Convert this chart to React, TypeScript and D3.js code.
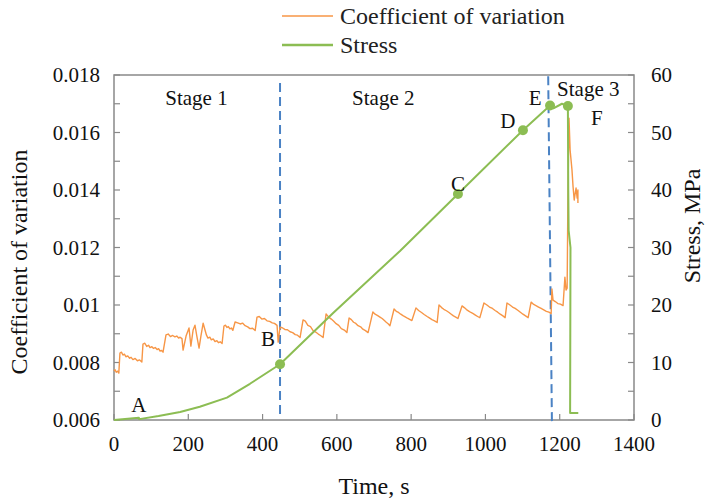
import React from "react";
import * as d3 from "d3";

// -- DATA --
// coefficient of variation, [time s, value]
const cvSeries: [number, number][] = [
  [0, 0.0077], [3, 0.00775], [6, 0.00766], [10, 0.0077], [13, 0.00763], [16, 0.00833], [20, 0.00836],
  [24, 0.00826], [28, 0.00829], [32, 0.0082], [37, 0.00823], [42, 0.00815], [46, 0.00818], [51, 0.0081],
  [57, 0.00814], [63, 0.00806], [69, 0.00809], [75, 0.00802], [78, 0.00864], [83, 0.00867], [88, 0.00856],
  [93, 0.0086], [97, 0.00852], [102, 0.00855], [106, 0.00849], [111, 0.00852], [116, 0.00845], [120, 0.00848],
  [124, 0.0084], [128, 0.00842], [132, 0.00836], [140, 0.00896], [146, 0.00899], [152, 0.0089], [158, 0.00894],
  [164, 0.00889], [169, 0.00892], [174, 0.00885], [178, 0.00888], [183, 0.00883], [186, 0.00843], [194, 0.00892],
  [202, 0.0092], [207, 0.00857], [213, 0.00913], [218, 0.0093], [223, 0.00892], [229, 0.0085],
  [234, 0.00892], [240, 0.00937], [245, 0.00913], [249, 0.00895], [253, 0.00885], [258, 0.00888], [262, 0.00879],
  [267, 0.00882], [272, 0.00873], [277, 0.00876], [281, 0.00869], [286, 0.00872], [291, 0.00866], [296, 0.00927],
  [300, 0.0093], [304, 0.00922], [308, 0.00925], [312, 0.00917], [316, 0.0092], [320, 0.00912],
  [326, 0.00941], [333, 0.00938], [340, 0.00934], [346, 0.00937], [353, 0.00928], [360, 0.00924], [366, 0.00918],
  [373, 0.00919], [380, 0.00911], [385, 0.00958], [391, 0.0096], [398, 0.00951], [405, 0.00953], [412, 0.00945],
  [419, 0.00943], [426, 0.00938], [432, 0.00936], [439, 0.00929], [442, 0.00871], [447, 0.00923],
  [453, 0.00921], [460, 0.00915], [467, 0.00914], [474, 0.00907], [481, 0.00904], [488, 0.00897], [494, 0.00895],
  [501, 0.00887], [509, 0.00948], [515, 0.00944], [522, 0.00929], [529, 0.00925], [536, 0.00911], [543, 0.00906],
  [550, 0.00899], [556, 0.00894], [563, 0.00887], [571, 0.00969], [578, 0.00958], [585, 0.00951], [591, 0.00944],
  [598, 0.00935], [605, 0.00929], [612, 0.00918], [620, 0.00913], [627, 0.00904], [633, 0.00955], [639, 0.00949],
  [645, 0.0094], [651, 0.00936], [657, 0.00928], [664, 0.00924], [670, 0.00916], [677, 0.00911],
  [684, 0.00904], [697, 0.00976], [703, 0.00968], [710, 0.00963], [716, 0.00958], [722, 0.00953], [728, 0.00946],
  [733, 0.0094], [738, 0.00935], [743, 0.00928], [754, 0.00986], [760, 0.00978], [766, 0.00974], [772, 0.00968],
  [778, 0.00963], [784, 0.00959], [790, 0.00954], [796, 0.0095], [802, 0.00946], [813, 0.0099], [820, 0.00981],
  [828, 0.00974], [835, 0.00967], [843, 0.0096], [849, 0.00955], [856, 0.00949], [863, 0.00945], [870, 0.00939],
  [875, 0.01], [882, 0.00991], [888, 0.00985], [895, 0.0098], [902, 0.00974], [908, 0.00968], [914, 0.00962],
  [920, 0.00958], [926, 0.00953], [937, 0.00997], [943, 0.00991], [949, 0.00984], [955, 0.00979], [961, 0.00974],
  [967, 0.0097], [973, 0.00965], [979, 0.0096], [985, 0.00956], [996, 0.01007], [1004, 0.01], [1011, 0.00993],
  [1019, 0.00988], [1026, 0.00981], [1033, 0.00975], [1040, 0.00968], [1047, 0.00962], [1053, 0.00956],
  [1058, 0.01007], [1066, 0.01], [1073, 0.00993], [1080, 0.00988], [1088, 0.00981], [1095, 0.00974],
  [1101, 0.00968], [1108, 0.00962], [1115, 0.00956], [1123, 0.0101], [1130, 0.01002], [1136, 0.00998],
  [1143, 0.00993], [1150, 0.00988], [1157, 0.00983], [1164, 0.00978], [1171, 0.00975], [1177, 0.0097],
  [1179, 0.01056], [1182, 0.01017], [1188, 0.01012], [1195, 0.01005], [1202, 0.01003], [1209, 0.00998],
  [1214, 0.01097], [1217, 0.01052], [1220, 0.01059], [1222, 0.01365], [1225, 0.0165], [1228, 0.01539],
  [1233, 0.0147], [1236, 0.0141], [1239, 0.01365], [1241, 0.01383], [1244, 0.01407], [1247, 0.01372],
  [1249, 0.014], [1249, 0.01355],
];

// stress, [time s, MPa]
const stressSeries: [number, number][] = [
  [0, 0], [67, 0.4], [68, 0.15], [120, 0.7], [178, 1.4], [231, 2.3], [304, 3.9], [366, 6.3],
  [447, 9.7], [590, 18.6], [770, 29.4], [926, 39.3], [1101, 50.4], [1174, 54.7], [1183, 54.2],
  [1206, 55.0], [1222, 54.6], [1223, 40], [1224, 33], [1229, 30], [1228, 1.2], [1250, 1.2],
];

// labelled points on the stress curve
const markerNames = ["A", "B", "C", "D", "E", "F"];
const markerTimes = [67, 447, 926, 1101, 1174, 1222];
const markerStress = [0.4, 9.7, 39.3, 50.4, 54.7, 54.6];
const markerDots = [false, true, true, true, true, true];

// stage boundaries, [time top, time bottom]
const stageLines: [number, number][] = [[447, 447], [1169, 1179]];
const stageNames = ["Stage 1", "Stage 2", "Stage 3"];
const stageTimes = [222, 725, 1277];

const xTicks = [0, 200, 400, 600, 800, 1000, 1200, 1400];
const cvTicks = [0.006, 0.008, 0.01, 0.012, 0.014, 0.016, 0.018];
const cvTickLabels = ["0.006", "0.008", "0.01", "0.012", "0.014", "0.016", "0.018"];
const stressTicks = [0, 10, 20, 30, 40, 50, 60];

const seriesNames = ["Coefficient of variation", "Stress"];

const App = () => {
  const W = 707;
  const H = 499;
  const m = { left: 114, right: 634, top: 75, bottom: 420 };
  const font = "'Liberation Serif', 'Times New Roman', serif";
  const axisColor = "#898989";
  const orange = "#F79646";
  const green = "#8CBD53";
  const blue = "#4A82C4";

  const x = d3.scaleLinear().domain([0, 1400]).range([m.left, m.right]);
  const yL = d3.scaleLinear().domain([0.006, 0.018]).range([m.bottom, m.top]);
  const yR = d3.scaleLinear().domain([0, 60]).range([m.bottom, m.top]);

  const cvLine = d3
    .line<[number, number]>()
    .x((d) => x(d[0]))
    .y((d) => yL(d[1]));
  const stressLine = d3
    .line<[number, number]>()
    .x((d) => x(d[0]))
    .y((d) => yR(d[1]));

  // half-step ticks on both vertical axes
  const cvMinor = d3.range(0.006, 0.01801, 0.001);
  const stressMinor = d3.range(0, 61, 5);

  return (
    <svg
      width={W}
      height={H}
      style={{ position: "absolute", left: 0, top: 0, background: "#fff", fontFamily: font }}
    >
      {/* legend */}
      <g>
        {seriesNames.map((name, i) => (
          <g key={name} transform={`translate(282, ${16 + i * 29})`}>
            <line x1={0} x2={51} y1={0} y2={0} stroke={i === 0 ? orange : green} strokeWidth={i === 0 ? 1.5 : 2.5} />
            <text x={58} y={0} dy="0.35em" fontSize={24} fill="#222">
              {name}
            </text>
          </g>
        ))}
      </g>

      {/* plot box */}
      <rect
        x={m.left}
        y={m.top}
        width={m.right - m.left}
        height={m.bottom - m.top}
        fill="none"
        stroke={axisColor}
        strokeWidth={1.5}
      />

      {/* x axis */}
      {xTicks.map((t) => (
        <g key={"x" + t}>
          <line x1={x(t)} x2={x(t)} y1={m.bottom} y2={m.bottom - 6} stroke={axisColor} strokeWidth={1.2} />
          <text x={x(t)} y={444} dy="0.35em" textAnchor="middle" fontSize={21} fill="#111">
            {t}
          </text>
        </g>
      ))}
      {/* left axis */}
      {cvMinor.map((v) => (
        <line key={"lm" + v} x1={m.left} x2={m.left + 6} y1={yL(v)} y2={yL(v)} stroke={axisColor} strokeWidth={1.2} />
      ))}
      {cvTicks.map((v, i) => (
        <text key={"l" + v} x={100} y={yL(v)} dy="0.35em" textAnchor="end" fontSize={21} fill="#111">
          {cvTickLabels[i]}
        </text>
      ))}
      {/* right axis */}
      {stressMinor.map((v) => (
        <line key={"rm" + v} x1={m.right} x2={m.right - 6} y1={yR(v)} y2={yR(v)} stroke={axisColor} strokeWidth={1.2} />
      ))}
      {stressTicks.map((v) => (
        <text key={"r" + v} x={651} y={yR(v)} dy="0.35em" textAnchor="start" fontSize={21} fill="#111">
          {v}
        </text>
      ))}

      {/* axis titles */}
      <text x={374} y={486} dy="0.35em" textAnchor="middle" fontSize={24} fill="#111">
        Time, s
      </text>
      <text transform={`translate(19, 262) rotate(-90)`} dy="0.35em" textAnchor="middle" fontSize={24} fill="#111">
        Coefficient of variation
      </text>
      <text transform={`translate(692, 226) rotate(-90)`} dy="0.35em" textAnchor="middle" fontSize={24} fill="#111">
        Stress, MPa
      </text>

      {/* stage separators */}
      {stageLines.map((s, i) => (
        <line
          key={"s" + i}
          x1={x(s[0])}
          x2={x(s[1])}
          y1={i === 0 ? yL(0.01772) : yL(0.01796)}
          y2={i === 0 ? yL(0.00621) : yL(0.00595)}
          stroke={blue}
          strokeWidth={2}
          strokeDasharray="9,5"
        />
      ))}
      {stageNames.map((name, i) => (
        <text
          key={name}
          x={x(stageTimes[i])}
          y={i === 2 ? 89 : 98}
          dy="0.35em"
          textAnchor="middle"
          fontSize={21}
          fill="#111"
        >
          {name}
        </text>
      ))}

      {/* series */}
      <path d={cvLine(cvSeries) || ""} fill="none" stroke={orange} strokeWidth={1.4} strokeLinejoin="round" />
      <path d={stressLine(stressSeries) || ""} fill="none" stroke={green} strokeWidth={2} strokeLinejoin="round" />

      {/* marked points */}
      {markerNames.map((name, i) =>
        markerDots[i] ? (
          <circle key={"c" + name} cx={x(markerTimes[i])} cy={yR(markerStress[i])} r={5} fill={green} />
        ) : null
      )}
      {markerNames.map((name, i) => {
        const offs: [number, number][] = [[0, -13], [-12, -26], [0, -10], [-15, -10], [-15, -8], [29, 12]];
        return (
          <text
            key={"t" + name}
            x={x(markerTimes[i]) + offs[i][0]}
            y={yR(markerStress[i]) + offs[i][1]}
            dy="0.35em"
            textAnchor="middle"
            fontSize={21}
            fill="#111"
          >
            {name}
          </text>
        );
      })}
    </svg>
  );
};

export default App;
